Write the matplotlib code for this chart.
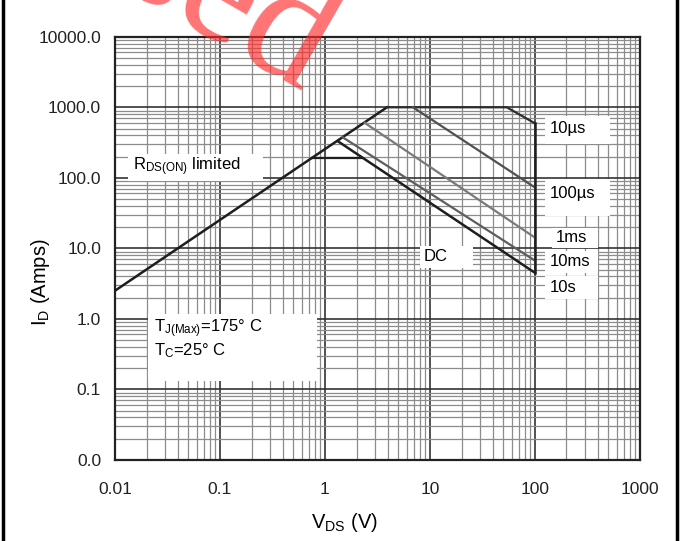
import matplotlib
matplotlib.use("Agg")
import matplotlib.pyplot as plt
from matplotlib.lines import Line2D
from matplotlib.patches import Rectangle
from matplotlib.ticker import FixedLocator, LogLocator, NullFormatter

plt.rcParams['font.family'] = ['Liberation Sans', 'DejaVu Sans']
plt.rcParams['mathtext.fontset'] = 'custom'
plt.rcParams['mathtext.rm'] = 'Liberation Sans'
plt.rcParams['mathtext.it'] = 'Liberation Sans:italic'

# SOA boundary curves (V, A)
rds_v = [0.01, 3.9]
rds_i = [2.5, 1000]
us10_v = [3.9, 54, 100]
us10_i = [1000, 1000, 593]
us100_v = [6.9, 100]
us100_i = [1000, 73]
ms1_v = [2.4, 100]
ms1_i = [600, 14.2]
ms10_v = [1.48, 100]
ms10_i = [375, 6.7]
s10_v = [1.33, 100]
s10_i = [330, 4.5]
dc_v = [0.76, 2.25]
dc_i = [190, 190]
edge_v = [100, 100]
edge_i = [593, 4.5]

x_ticks = [0.01, 0.1, 1, 10, 100, 1000]
x_labels = ["0.01", "0.1", "1", "10", "100", "1000"]
y_ticks = [0.01, 0.1, 1, 10, 100, 1000, 10000]
y_labels = ["0.0", "0.1", "1.0", "10.0", "100.0", "1000.0", "10000.0"]

fig = plt.figure(figsize=(6.8, 5.41), dpi=100)
ax = fig.add_axes([0.169, 0.150, 0.772, 0.782])
ax.set_xscale('log')
ax.set_yscale('log')
ax.set_xlim(0.01, 1000)
ax.set_ylim(0.01, 10000)

ax.xaxis.set_major_locator(FixedLocator(x_ticks))
ax.yaxis.set_major_locator(FixedLocator(y_ticks))
ax.set_xticklabels(x_labels)
ax.set_yticklabels(y_labels)
ax.xaxis.set_minor_locator(LogLocator(base=10, subs=range(2, 10), numticks=20))
ax.yaxis.set_minor_locator(LogLocator(base=10, subs=range(2, 10), numticks=20))
ax.xaxis.set_minor_formatter(NullFormatter())
ax.yaxis.set_minor_formatter(NullFormatter())
ax.tick_params(which='both', length=0, labelsize=12.5, colors='#222222')
ax.tick_params(axis='x', pad=16)
ax.tick_params(axis='y', pad=10)

ax.grid(which='major', color='#333333', lw=1.2, zorder=0)
ax.grid(which='minor', color='#8c8c8c', lw=0.9, zorder=0)
for s in ax.spines.values():
    s.set_linewidth(1.6)
    s.set_color('#222222')

# curves
ax.plot(rds_v, rds_i, color='#1e1e1e', lw=1.8, zorder=3)
ax.plot(us10_v, us10_i, color='#2e2e2e', lw=1.6, zorder=3)
ax.plot(us100_v, us100_i, color='#505050', lw=1.6, zorder=3)
ax.plot(ms1_v, ms1_i, color='#7a7a7a', lw=1.6, zorder=3)
ax.plot(ms10_v, ms10_i, color='#5e5e5e', lw=1.6, zorder=3)
ax.plot(s10_v, s10_i, color='#1e1e1e', lw=1.8, zorder=3)
ax.plot(dc_v, dc_i, color='#1e1e1e', lw=1.6, zorder=3)
ax.plot(edge_v, edge_i, color='#1e1e1e', lw=1.8, zorder=3)


# white label backgrounds, given in picture pixels of the axes box
def white_box(x0, x1, y0, y1):
    fx0 = (x0 - 115) / 525
    fy0 = (459 - y1) / 423
    ax.add_patch(Rectangle((fx0, fy0), (x1 - x0) / 525, (y1 - y0) / 423,
                           transform=ax.transAxes, facecolor='white',
                           edgecolor='none', zorder=2))


white_box(545, 610, 115, 143)
white_box(545, 610, 178, 215)
white_box(552, 598, 227, 247)
white_box(545, 598, 250, 272)
white_box(545, 598, 275, 298)
white_box(420, 473, 245, 267)
white_box(128, 263, 153, 180)
white_box(148, 317, 313, 380)

fs = 12
ax.text(139, 504, "10µs", fontsize=fs, va='center', zorder=4)
ax.text(139, 60, "100µs", fontsize=fs, va='center', zorder=4)
ax.text(158, 14.2, "1ms", fontsize=fs, va='center', zorder=4)
ax.text(139, 6.5, "10ms", fontsize=fs, va='center', zorder=4)
ax.text(139, 2.8, "10s", fontsize=fs, va='center', zorder=4)
ax.text(8.8, 7.7, "DC", fontsize=fs, va='center', zorder=4)
ax.text(0.0148, 145, r"R$_{\mathrm{DS(ON)}}$ limited", fontsize=fs,
        va='center', zorder=4)
ax.text(0.0235, 0.52, "T$_{\\mathrm{J(Max)}}$=175° C\nT$_{\\mathrm{C}}$=25° C",
        fontsize=fs, va='center', linespacing=1.05, zorder=4)

ax.set_xlabel(r"V$_{\mathrm{DS}}$ (V)", fontsize=14.5)
ax.set_ylabel(r"I$_{\mathrm{D}}$ (Amps)", fontsize=14.5)
ax.xaxis.set_label_coords(0.438, -0.12)
ax.yaxis.set_label_coords(-0.12, 0.42)

# watermark
fig.text(0.166, 1.028, "sed", fontsize=118, family='Liberation Serif',
         color='#ff2a2a', alpha=0.65, rotation=-30, rotation_mode='anchor',
         ha='left', va='baseline', zorder=10)

# page border
fig.add_artist(Line2D([0.005, 0.005], [0, 1], color='black', lw=2.5))
fig.add_artist(Line2D([0.995, 0.995], [0, 1], color='black', lw=2.5))

fig.savefig("out.png", dpi=100)
